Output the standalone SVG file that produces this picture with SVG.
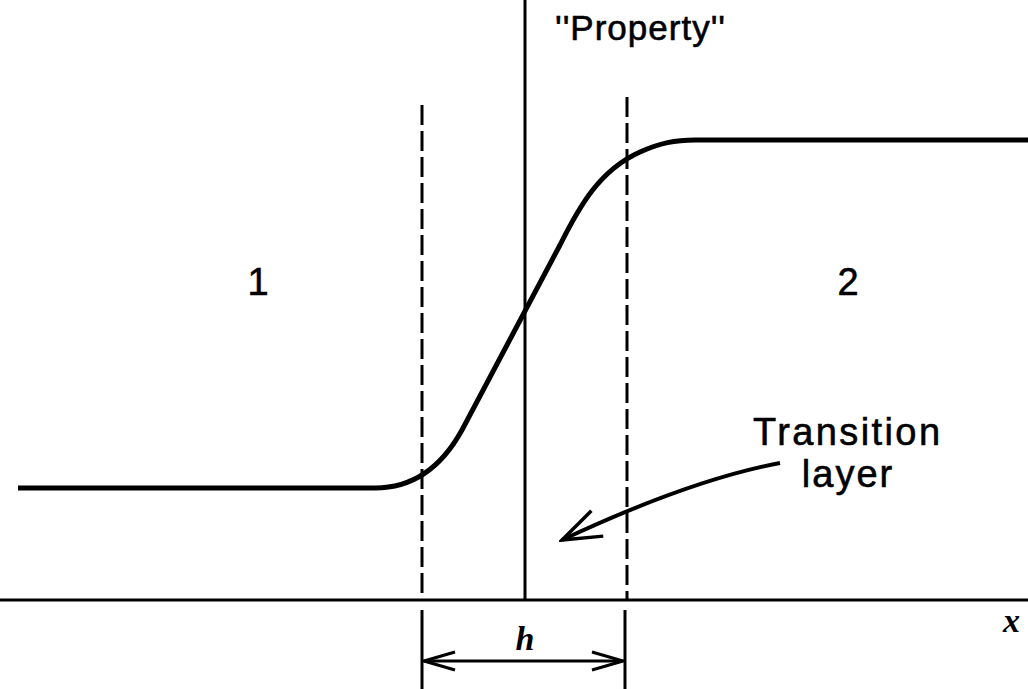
<svg xmlns="http://www.w3.org/2000/svg" width="1028" height="689" viewBox="0 0 1028 689">
<style>
.ln{stroke:#000;fill:none;stroke-width:3}
.dash{stroke:#000;fill:none;stroke-width:3;stroke-dasharray:20 6}
.lbl{font-family:"Liberation Sans",Arial,sans-serif;font-size:38px;fill:#000;stroke:#000;stroke-width:0.6}
.math{font-family:"Liberation Serif","Times New Roman",serif;font-style:italic;font-weight:bold;font-size:34px;fill:#000}
</style>
<defs>
<marker id="open" viewBox="0 0 36 22" refX="33" refY="11" markerWidth="36" markerHeight="22" markerUnits="userSpaceOnUse" orient="auto-start-reverse">
<path d="M2,2 L33,11 L2,20" fill="none" stroke="#000" stroke-width="3"/>
</marker>
<marker id="tl" viewBox="0 0 44 32" refX="41" refY="16" markerWidth="44" markerHeight="32" markerUnits="userSpaceOnUse" orient="auto">
<path d="M2,2 L41,16 L2,30" fill="none" stroke="#000" stroke-width="3.5"/>
</marker>
</defs>
<g id="axes">
<line class="ln" x1="0" y1="600" x2="1028" y2="600"/>
<line class="ln" x1="525" y1="0" x2="525" y2="600"/>
<text class="math" x="1003" y="632">x</text>
</g>
<g id="boundaries">
<line class="dash" x1="422" y1="105" x2="422" y2="600"/>
<line class="dash" x1="627" y1="97" x2="627" y2="600"/>
</g>
<g id="curve">
<path class="ln" style="stroke-width:5" d="M18,488 H375 C410,488 440,470 462,430 L560,245 C580,205 600,170 640,152 C660,143 675,140 695,140 H1028"/>
</g>
<g id="region1"><text class="lbl" x="258" y="295" text-anchor="middle">1</text></g>
<g id="region2"><text class="lbl" x="848" y="295" text-anchor="middle">2</text></g>
<g id="property"><text class="lbl" x="555" y="40" style="font-size:35px;letter-spacing:1px">''Property''</text></g>
<g id="transition">
<text class="lbl" x="753" y="445" style="letter-spacing:2.4px">Transition</text>
<text class="lbl" x="848" y="487" text-anchor="middle" style="letter-spacing:2px">layer</text>
</g>
<g id="dimension">
<line class="ln" x1="422" y1="610" x2="422" y2="689"/>
<line class="ln" x1="625" y1="610" x2="625" y2="689"/>
<line class="ln" x1="424" y1="661" x2="623" y2="661" marker-start="url(#open)" marker-end="url(#open)"/>
<text class="math" x="525" y="650" text-anchor="middle">h</text>
</g>
<g id="connectors">
<path d="M780,463 Q690,480 562,540" fill="none" stroke="#000" stroke-width="4" marker-end="url(#tl)"/>
</g>
</svg>
